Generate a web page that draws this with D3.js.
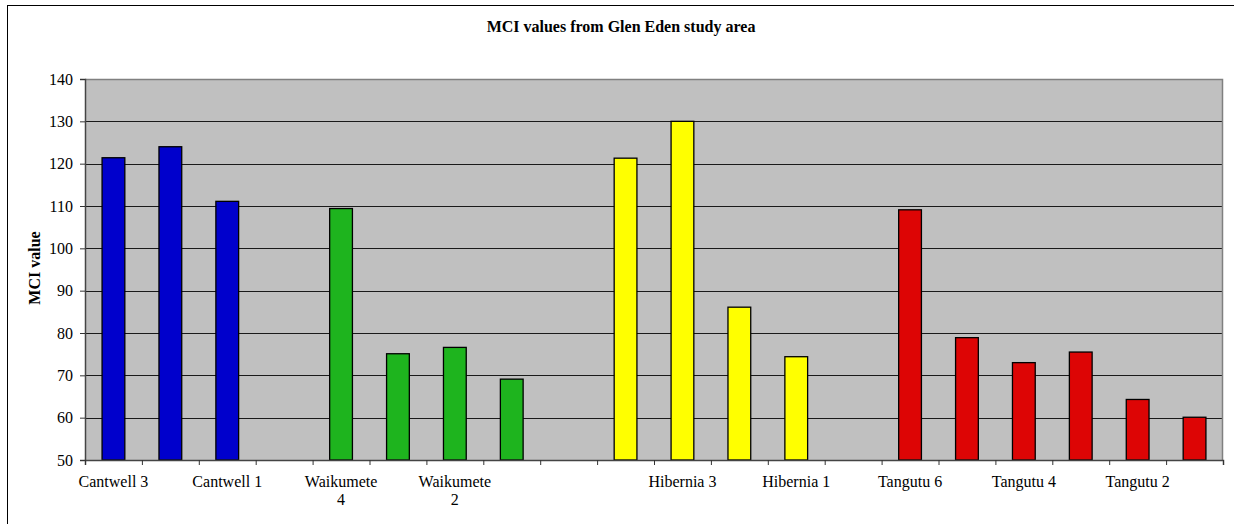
<!DOCTYPE html>
<html>
<head>
<meta charset="utf-8">
<script src="https://cdn.jsdelivr.net/npm/d3@7"></script>
<style>
  html, body { margin: 0; padding: 0; background: #fff; }
  svg { display: block; }
  text { font-family: "Liberation Serif", "Times New Roman", serif; fill: #000; }
</style>
</head>
<body>
<svg id="chart" width="1234" height="524"></svg>
<script>
// Sampling sites, in plotting order (blank slots separate the streams)
const categories = [
  "Cantwell 3", "Cantwell 2", "Cantwell 1", "",
  "Waikumete 4", "Waikumete 3", "Waikumete 2", "Waikumete 1", "",
  "Hibernia 4", "Hibernia 3", "Hibernia 2", "Hibernia 1", "",
  "Tangutu 6", "Tangutu 5", "Tangutu 4", "Tangutu 3", "Tangutu 2", "Tangutu 1"
];
// Stream each site belongs to
const streams = [
  "Cantwell", "Cantwell", "Cantwell", "",
  "Waikumete", "Waikumete", "Waikumete", "Waikumete", "",
  "Hibernia", "Hibernia", "Hibernia", "Hibernia", "",
  "Tangutu", "Tangutu", "Tangutu", "Tangutu", "Tangutu", "Tangutu"
];
// MCI value per site
const mciValues = [
  121.4, 124.0, 111.1, null,
  109.4, 75.1, 76.6, 69.1, null,
  121.3, 130.0, 86.1, 74.4, null,
  109.1, 78.9, 73.0, 75.5, 64.3, 60.1
];
const yTicks = [50, 60, 70, 80, 90, 100, 110, 120, 130, 140];
const streamNames = ["Cantwell", "Waikumete", "Hibernia", "Tangutu"];
const streamColors = ["#0000cc", "#1eb41e", "#ffff00", "#dd0505"];

const svg = d3.select("#chart");
const W = 1234, H = 524;
const plot = { left: 85, right: 1223, top: 79, bottom: 460 };

// Outer chart frame
svg.append("rect")
  .attr("x", 7.5).attr("y", 5.5)
  .attr("width", W + 20).attr("height", H + 20)
  .attr("fill", "#fff").attr("stroke", "#000").attr("stroke-width", 1);

const idx = d3.range(categories.length);
const x = d3.scaleBand().domain(idx).range([plot.left, plot.right])
  .paddingInner(0.6).paddingOuter(0.3);
const slot = d3.scaleLinear().domain([0, categories.length]).range([plot.left, plot.right]);
const y = d3.scaleLinear().domain([50, 140]).range([plot.bottom, plot.top]);
const color = d3.scaleOrdinal().domain(streamNames).range(streamColors);

// Plot background
svg.append("rect")
  .attr("x", plot.left).attr("y", plot.top)
  .attr("width", plot.right - plot.left).attr("height", plot.bottom - plot.top)
  .attr("fill", "#c0c0c0");

// Horizontal gridlines
svg.append("g")
  .selectAll("line")
  .data(yTicks.filter(t => t > 50 && t < 140))
  .join("line")
  .attr("x1", plot.left).attr("x2", plot.right)
  .attr("y1", d => Math.round(y(d)) + 0.5).attr("y2", d => Math.round(y(d)) + 0.5)
  .attr("stroke", "#1a1a1a").attr("stroke-width", 1);

// Plot area border (top and right)
svg.append("path")
  .attr("d", `M${plot.left},${plot.top + 0.5}H${plot.right - 0.5}V${plot.bottom}`)
  .attr("fill", "none").attr("stroke", "#808080").attr("stroke-width", 1.5);

// Bars
svg.append("g")
  .selectAll("rect")
  .data(idx.filter(i => mciValues[i] != null))
  .join("rect")
  .attr("x", i => x(i))
  .attr("y", i => y(mciValues[i]))
  .attr("width", x.bandwidth())
  .attr("height", i => y(50) - y(mciValues[i]))
  .attr("fill", i => color(streams[i]))
  .attr("stroke", "#000").attr("stroke-width", 1.3);

// Y axis
const yAxis = svg.append("g")
  .attr("transform", `translate(${plot.left},0)`)
  .call(d3.axisLeft(y).tickValues(yTicks).tickSize(5).tickPadding(7).tickFormat(d3.format("d")));
yAxis.select(".domain").attr("stroke", "#444").attr("stroke-width", 1.5);
yAxis.selectAll(".tick line").attr("stroke", "#333");
yAxis.selectAll("text").attr("font-size", 16).attr("font-family", "Liberation Serif, serif").attr("fill", "#000");

// X axis: tick marks on category boundaries
const xAxis = svg.append("g")
  .attr("transform", `translate(0,${plot.bottom})`)
  .call(d3.axisBottom(slot).tickValues(d3.range(categories.length + 1)).tickSize(5).tickFormat(""));
xAxis.select(".domain").attr("stroke", "#444").attr("stroke-width", 1.5);
xAxis.selectAll(".tick line").attr("stroke", "#333");

// Category labels, every other slot, wrapped when too wide
const labels = svg.append("g")
  .selectAll("text")
  .data(idx.filter(i => i % 2 === 0))
  .join("text")
  .attr("x", i => x(i) + x.bandwidth() / 2)
  .attr("y", 487)
  .attr("text-anchor", "middle")
  .attr("font-size", 16)
  .text(i => categories[i]);

labels.each(function (i) {
  const t = d3.select(this);
  if (this.getComputedTextLength() > 70) {
    const words = categories[i].split(" ");
    const last = words.pop();
    const cx = t.attr("x");
    t.text(null);
    t.append("tspan").attr("x", cx).attr("dy", 0).text(words.join(" "));
    t.append("tspan").attr("x", cx).attr("dy", 18).text(last);
  }
});

// Y axis title
svg.append("text")
  .attr("transform", "translate(40,268) rotate(-90)")
  .attr("text-anchor", "middle")
  .attr("font-size", 16).attr("font-weight", "bold")
  .text("MCI value");

// Chart title
svg.append("text")
  .attr("x", 621).attr("y", 32)
  .attr("text-anchor", "middle")
  .attr("font-size", 16).attr("font-weight", "bold")
  .text("MCI values from Glen Eden study area");
</script>
</body>
</html>
